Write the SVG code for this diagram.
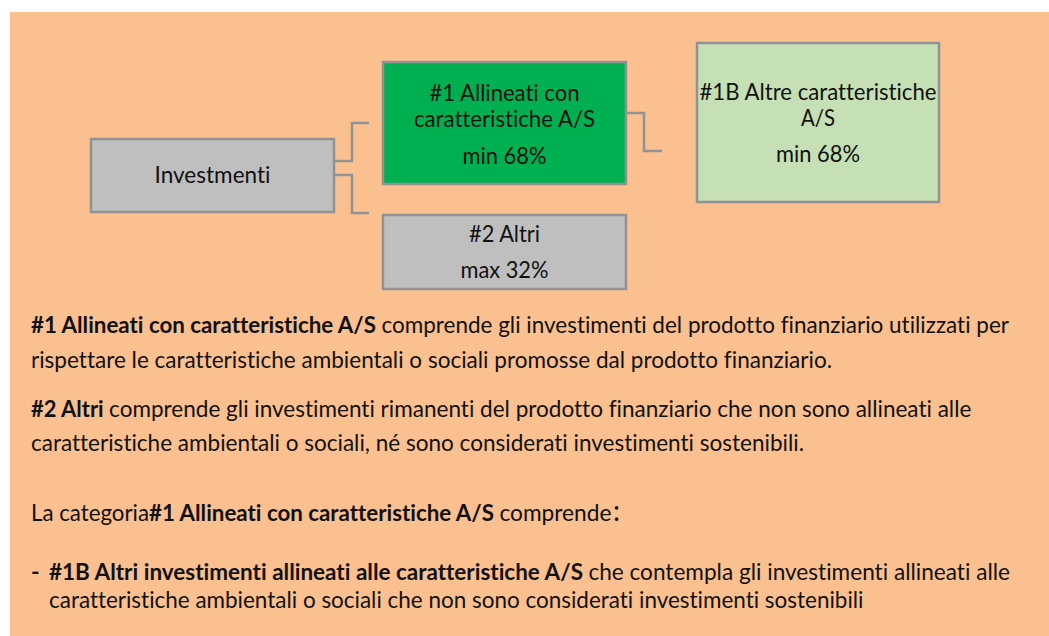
<svg xmlns="http://www.w3.org/2000/svg" width="1049" height="636" viewBox="0 0 1049 636">
<style>
.bx{stroke:#929292;stroke-width:2.5}
.grey{fill:#BFBFBF}
.green{fill:#00B050}
.lgreen{fill:#C5E0B4}
.t{font-family:Lato,"Liberation Sans",sans-serif;font-size:23px;fill:#111;font-variant-ligatures:none;font-feature-settings:"liga" 0,"dlig" 0}
.c{text-anchor:middle}
.b{font-weight:bold}
.conn{fill:none;stroke:#929292;stroke-width:2.5}
</style>
<rect x="0" y="0" width="1049" height="636" fill="#FFFFFF"/>
<rect x="10" y="12" width="1039" height="624" fill="#FAC090"/>
<g id="connectors">
<path class="conn" d="M334 161 H352 V123 H369"/>
<path class="conn" d="M334 175 H352 V213 H369"/>
<path class="conn" d="M626 113 H644 V151 H662"/>
</g>
<g id="node-investmenti">
<rect class="bx grey" x="91" y="139" width="243" height="73"/>
<text class="t c" x="212.5" y="183" textLength="116" lengthAdjust="spacingAndGlyphs">Investmenti</text>
</g>
<g id="node-allineati">
<rect class="bx green" x="383" y="62" width="243" height="122"/>
<text class="t c" x="504.5" y="101" textLength="150" lengthAdjust="spacingAndGlyphs">#1 Allineati con</text>
<text class="t c" x="504.5" y="127" textLength="181" lengthAdjust="spacingAndGlyphs">caratteristiche A/S</text>
<text class="t c" x="504.5" y="164" textLength="84" lengthAdjust="spacingAndGlyphs">min 68%</text>
</g>
<g id="node-altri">
<rect class="bx grey" x="383" y="215" width="243" height="74"/>
<text class="t c" x="504.5" y="242" textLength="71" lengthAdjust="spacingAndGlyphs">#2 Altri</text>
<text class="t c" x="504.5" y="278" textLength="88" lengthAdjust="spacingAndGlyphs">max 32%</text>
</g>
<g id="node-1b">
<rect class="bx lgreen" x="697" y="43" width="242" height="159"/>
<text class="t c" x="818" y="100" textLength="237" lengthAdjust="spacingAndGlyphs">#1B Altre caratteristiche</text>
<text class="t c" x="818" y="126" textLength="34" lengthAdjust="spacingAndGlyphs">A/S</text>
<text class="t c" x="818" y="162" textLength="84" lengthAdjust="spacingAndGlyphs">min 68%</text>
</g>
<g id="legend">
<text class="t b" x="31" y="333" textLength="345" lengthAdjust="spacingAndGlyphs">#1 Allineati con caratteristiche A/S</text>
<text class="t" x="381.4" y="333" textLength="627.6" lengthAdjust="spacingAndGlyphs">comprende gli investimenti del prodotto finanziario utilizzati per</text>
<text class="t" x="31" y="368" textLength="801" lengthAdjust="spacingAndGlyphs">rispettare le caratteristiche ambientali o sociali promosse dal prodotto finanziario.</text>
<text class="t b" x="31" y="417" textLength="72.7" lengthAdjust="spacingAndGlyphs">#2 Altri</text>
<text class="t" x="109.1" y="417" textLength="862.3" lengthAdjust="spacingAndGlyphs">comprende gli investimenti rimanenti del prodotto finanziario che non sono allineati alle</text>
<text class="t" x="31" y="451" textLength="773" lengthAdjust="spacingAndGlyphs">caratteristiche ambientali o sociali, né sono considerati investimenti sostenibili.</text>
<text class="t" x="31" y="521" textLength="118" lengthAdjust="spacingAndGlyphs">La categoria</text>
<text class="t b" x="149" y="521" textLength="345" lengthAdjust="spacingAndGlyphs">#1 Allineati con caratteristiche A/S</text>
<text class="t" x="499.4" y="521" textLength="112" lengthAdjust="spacingAndGlyphs">comprende</text>
<text class="t" x="613" y="521" style="font-size:28px">:</text>
<text class="t b" x="31" y="580">-</text>
<text class="t b" x="49" y="580" textLength="534" lengthAdjust="spacingAndGlyphs">#1B Altri investimenti allineati alle caratteristiche A/S</text>
<text class="t" x="588.4" y="580" textLength="421.6" lengthAdjust="spacingAndGlyphs">che contempla gli investimenti allineati alle</text>
<text class="t" x="49" y="608" textLength="814.5" lengthAdjust="spacingAndGlyphs">caratteristiche ambientali o sociali che non sono considerati investimenti sostenibili</text>
</g>
</svg>
